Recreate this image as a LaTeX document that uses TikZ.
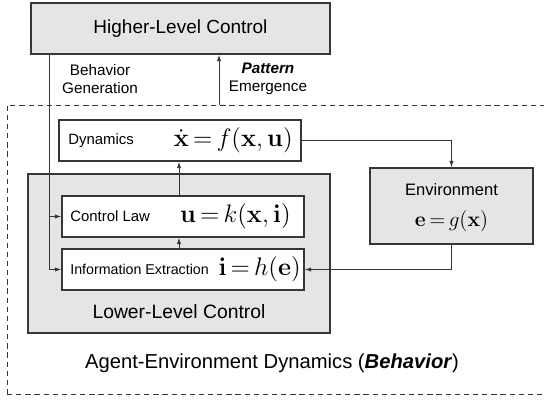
\documentclass[tikz,border=0pt]{standalone}
\usepackage[no-math]{fontspec}
\setmainfont{Liberation Sans}
\usetikzlibrary{arrows.meta,positioning}
\definecolor{boxgray}{RGB}{228,229,231}
\definecolor{linegray}{RGB}{55,55,55}
\newcommand\eqsp{\thickmuskip=3mu\relax}
\tikzset{
  blockbox/.style={draw=linegray, line width=0.8pt, fill=boxgray, inner sep=0pt},
  innerbox/.style={draw=linegray, line width=0.8pt, fill=white, inner sep=0pt,
    minimum width=4.84cm, minimum height=0.82cm},
  arr/.style={draw=linegray, line width=0.5pt, -{Latex[length=3.6pt,width=2.4pt]}},
  lbl/.style={inner sep=0pt, font=\fontsize{8.5}{10}\selectfont},
  eqn/.style={inner sep=0pt, font=\fontsize{13.6}{16}\selectfont},
}
\begin{document}
\begin{tikzpicture}[x=0.02cm, y=-0.02cm]
    \useasboundingbox (0,0) rectangle (544,400);

    % Agent-Environment Dynamics (dashed frame)
    \node[draw=linegray, dash pattern=on 3pt off 2.2pt, line width=0.55pt,
      minimum width=10.8cm, minimum height=5.8cm, inner sep=0pt] (agent) at (277,250) {};
    \node[inner sep=0pt, font=\fontsize{11.5}{14}\selectfont] (agentlbl) at (272,363)
      {Agent-Environment Dynamics (\textbf{\textit{Behavior}})};

    % Higher-Level Control
    \node[blockbox, minimum width=5.98cm, minimum height=1.02cm,
      font=\fontsize{10.8}{13}\selectfont] (hlc) at (180.5,28.5) {Higher-Level Control};

    % Lower-Level Control
    \node[blockbox, minimum width=6.04cm, minimum height=3.18cm] (llc) at (179,253.5) {};
    \node[inner sep=0pt, font=\fontsize{11}{13}\selectfont] (llclbl) at (179,312) {Lower-Level Control};

    % Dynamics, Control Law, Information Extraction
    \node[innerbox] (dyn) at (180,140.5) {};
    \node[lbl, anchor=west] (dynlbl) at (68,140.5) {Dynamics};
    \node[eqn, anchor=east] (dyneq) at (293,140.5) {$\eqsp\dot{\mathbf{x}}=f(\mathbf{x},\mathbf{u})$};

    \node[innerbox] (ctl) at (183,216.5) {};
    \node[lbl, anchor=west] (ctllbl) at (70,216.5) {Control Law};
    \node[eqn, anchor=east] (ctleq) at (291,216.5) {$\eqsp\mathbf{u}=k(\mathbf{x},\mathbf{i})$};

    \node[innerbox] (inf) at (183,269.5) {};
    \node[lbl, anchor=west, font=\fontsize{8.1}{10}\selectfont] (inflbl) at (70,269.5) {Information Extraction};
    \node[eqn, anchor=east] (infeq) at (301,269.5) {$\eqsp\mathbf{i}=h(\mathbf{e})$};

    % Environment
    \node[blockbox, minimum width=3.26cm, minimum height=1.52cm] (env) at (451.5,206) {};
    \node[inner sep=0pt, font=\fontsize{9.4}{11}\selectfont] (envlbl) at (451.5,190) {Environment};
    \node[eqn, font=\fontsize{11.6}{14}\selectfont] (enveq) at (451.5,221) {$\eqsp\mathbf{e}=g(\mathbf{x})$};

    % Behavior Generation / Pattern Emergence
    \node[lbl, align=center, font=\fontsize{8.7}{10.2}\selectfont] (behgen) at (100,79) {Behavior\\Generation};
    \node[lbl, align=center, font=\fontsize{8.7}{10.2}\selectfont] (patem) at (268,79) {\textbf{\textit{Pattern}}\\Emergence};

    % Verbindungen
    \coordinate (hdown) at (49,54);
    \draw[arr] (hdown) |- (ctl.west);
    \draw[arr] (hdown) |- (inf.west);
    \draw[arr] (inf.north -| 179,0) -- (ctl.south -| 179,0);
    \draw[arr] (ctl.north -| 179,0) -- (dyn.south -| 179,0);
    \draw[arr] (dyn.east) -| (env.north);
    \draw[arr] (env.south) |- (inf.east);
    \coordinate (pup) at (219,105);
    \draw[arr] (pup) -- (pup |- hlc.south);
\end{tikzpicture}
\end{document}
